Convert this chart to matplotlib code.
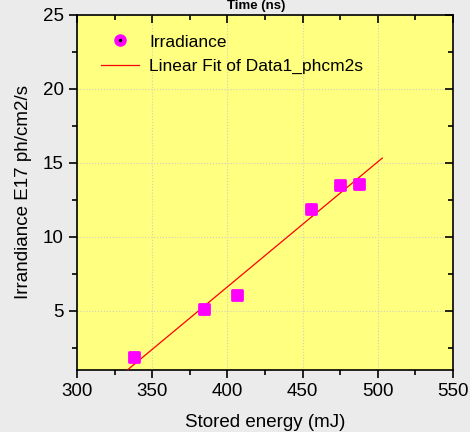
import numpy as np
import matplotlib
matplotlib.use("Agg")
import matplotlib.pyplot as plt
from matplotlib.lines import Line2D
from matplotlib.markers import MarkerStyle
from matplotlib.ticker import MultipleLocator

plt.rcParams["font.family"] = ["Liberation Sans", "DejaVu Sans"]

# data
energy = [338.0, 384.5, 406.5, 455.5, 475.0, 487.5]
irradiance = [1.9, 5.15, 6.1, 11.9, 13.5, 13.6]
fit_range = [325.0, 503.0]

x_ticks = [300, 350, 400, 450, 500, 550]
y_ticks = [5, 10, 15, 20, 25]

# linear fit of the data
slope, intercept = np.polyfit(energy, irradiance, 1)
fit_x = np.array(fit_range)
fit_y = slope * fit_x + intercept

fig = plt.figure(figsize=(4.7, 4.32), dpi=100, facecolor="#ebebeb")
ax = fig.add_axes([0.1638, 0.1435, 0.80, 0.8218])
ax.set_facecolor("#ffff80")

ax.plot(fit_x, fit_y, color="#ff0000", lw=0.9, zorder=3)
ax.plot(energy, irradiance, ls="none",
        marker=MarkerStyle("s", joinstyle="round"), ms=6.5,
        color="#ff00ff", mec="#ff00ff", mew=2, zorder=4)

ax.set_xlim(300, 550)
ax.set_ylim(1, 25)
ax.set_xticks(x_ticks)
ax.set_yticks(y_ticks)
ax.xaxis.set_minor_locator(MultipleLocator(25))
ax.yaxis.set_minor_locator(MultipleLocator(2.5))

ax.grid(True, which="major", color="#d0d0c0", ls=":", lw=0.8)
ax.tick_params(which="both", direction="out", labelsize=13.5, width=1.2,
               top=True, right=True)
ax.tick_params(which="major", length=6)
ax.tick_params(which="minor", length=3.5)
# top and right ticks point inward
for t in ax.xaxis.get_major_ticks() + ax.xaxis.get_minor_ticks():
    t.tick2line.set_marker(3)
for t in ax.yaxis.get_major_ticks() + ax.yaxis.get_minor_ticks():
    t.tick2line.set_marker(0)

for sp in ax.spines.values():
    sp.set_linewidth(1.2)

ax.set_xlabel("Stored energy (mJ)", fontsize=13.5, labelpad=10)
ax.set_ylabel("Irrandiance E17 ph/cm2/s", fontsize=13.5, labelpad=8)

fig.text(0.545, 1.0, "Time (ns)", ha="center", va="top",
         fontsize=9.5, fontweight="bold")

dot = Line2D([], [], ls="none", marker="o", ms=8, color="#ff00ff")
centre = Line2D([], [], ls="none", marker="o", ms=1.5, color="black")
fit_handle = Line2D([], [], color="#ff0000", lw=0.9)
ax.legend([(dot, centre), fit_handle],
          ["Irradiance", "Linear Fit of Data1_phcm2s"],
          loc="upper left", bbox_to_anchor=(0.045, 0.965), frameon=False,
          fontsize=12.5, handlelength=2.2, handletextpad=0.6,
          labelspacing=0.55, borderaxespad=0)

fig.savefig("out.png", dpi=100, facecolor=fig.get_facecolor())
